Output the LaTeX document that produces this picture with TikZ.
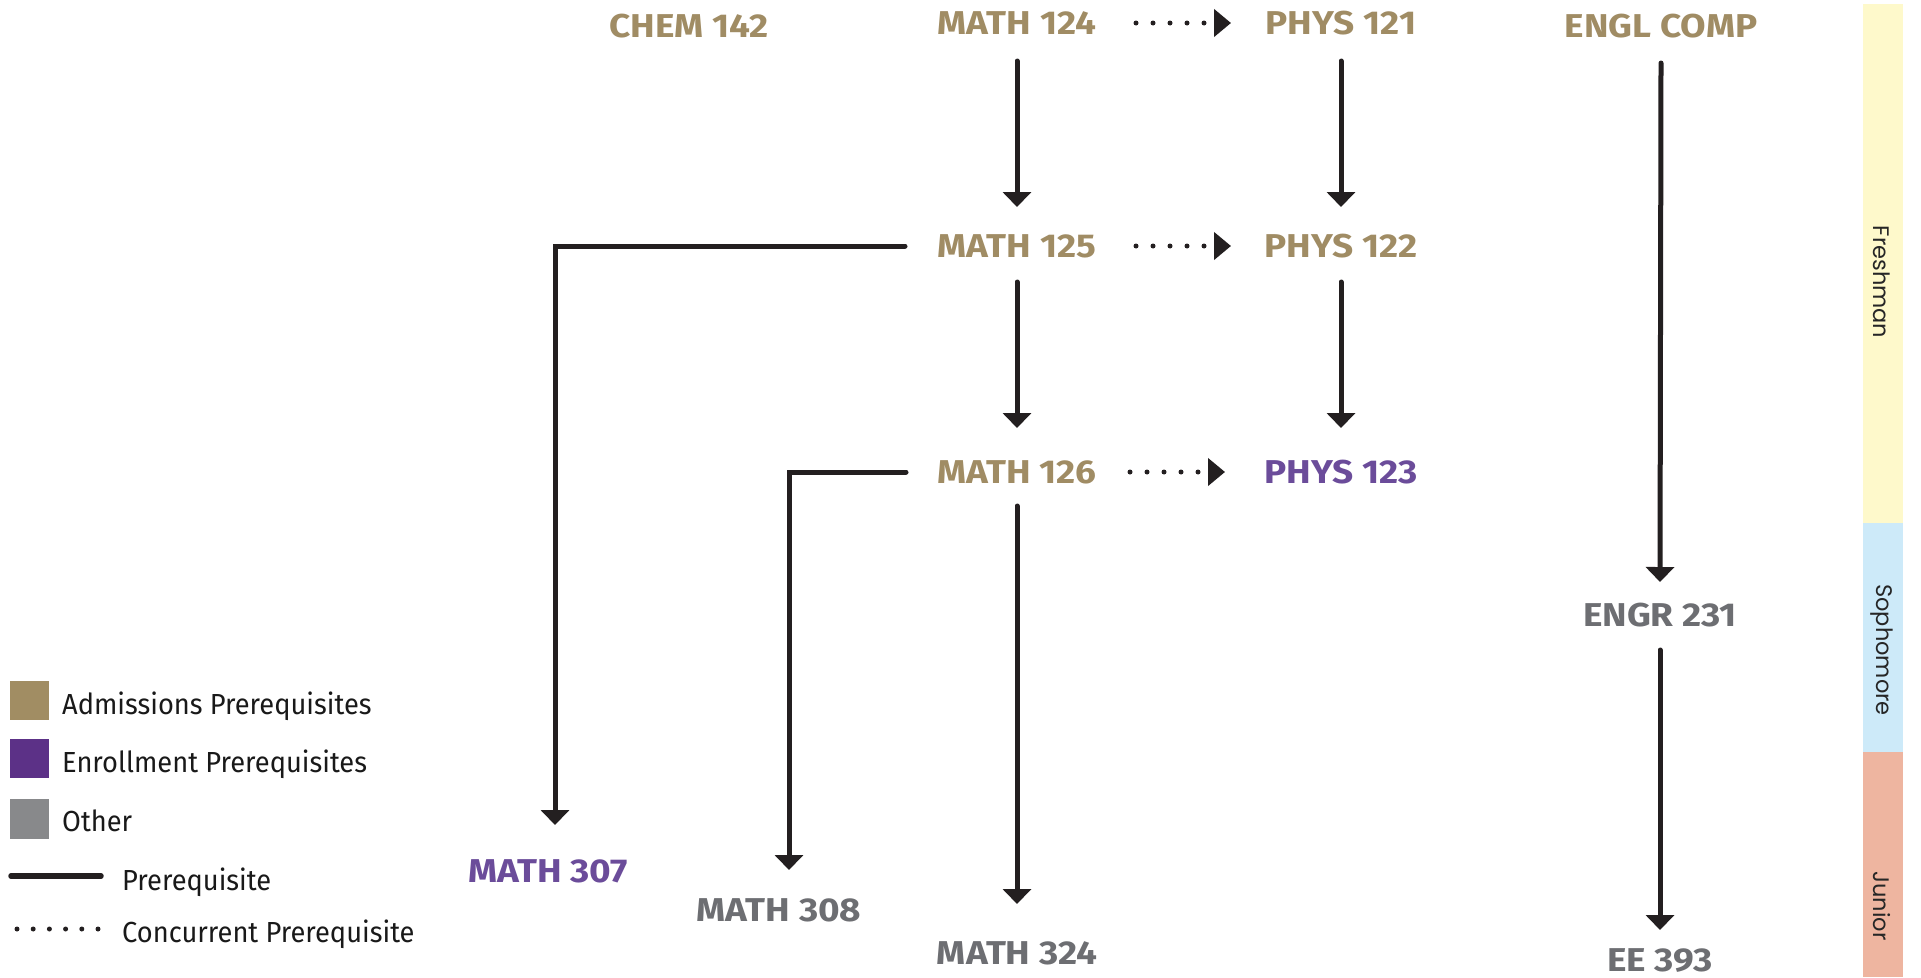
\documentclass[tikz,border=0pt]{standalone}
\usepackage{fontspec}
\setmainfont{Fira Sans}
\newfontfamily\coursefont[FakeStretch=1.12]{Fira Sans}
\newfontfamily\legendfont[FakeStretch=0.94]{Fira Sans}
\newfontfamily\bandfont{Poppins}
\usetikzlibrary{arrows.meta}
\definecolor{admc}{HTML}{A08C64}
\definecolor{enrc}{HTML}{6B4C9A}
\definecolor{othc}{HTML}{6D6E72}
\definecolor{admsq}{HTML}{A18D63}
\definecolor{enrsq}{HTML}{5C3187}
\definecolor{othsq}{HTML}{88898B}
\definecolor{linec}{HTML}{231F20}
\definecolor{yelband}{HTML}{FEF9CB}
\definecolor{bluband}{HTML}{CDEAF9}
\definecolor{salband}{HTML}{EEB5A0}
\tikzset{
  course/.style={font=\coursefont\bfseries\fontsize{33}{36}\selectfont, inner sep=0pt},
  adm/.style={course, text=admc},
  enr/.style={course, text=enrc},
  oth/.style={course, text=othc},
  pre/.style={draw=linec, line width=5pt, line cap=round, -{Triangle[width=28pt,length=15pt]}},
  conc/.style={draw=linec, line width=5pt, line cap=round, dash pattern=on 0pt off 17pt, -{Triangle[width=27pt,length=17pt]}},
  legtext/.style={font=\legendfont\fontsize{29}{32}\selectfont, anchor=base west, inner sep=0pt, text=black!90},
  bandlabel/.style={font=\bandfont\fontsize{22.5}{26}\selectfont, rotate=-90, inner sep=0pt, text=black!85},
}
\begin{document}
\begin{tikzpicture}[x=1pt,y=-1pt]
\useasboundingbox (0,0) rectangle (1921,977);
\fill[white] (0,0) rectangle (1921,977);
% year band
\fill[yelband] (1863,4) rectangle (1903,523);
\fill[bluband] (1863,523) rectangle (1903,752);
\fill[salband] (1863,752) rectangle (1903,977);
\node[bandlabel] (fresh) at (1882,282) {Freshman};
\node[bandlabel] (soph) at (1882,650) {Sophomore};
\node[bandlabel] (jun) at (1882,906) {Junior};
% courses
\node[adm] (chem) at (689,26) {CHEM 142};
\node[adm] (m124) at (1017,23) {MATH 124};
\node[adm] (p121) at (1341,23) {PHYS 121};
\node[adm] (engl) at (1661,26) {ENGL COMP};
\node[adm] (m125) at (1017,246) {MATH 125};
\node[adm] (p122) at (1341,246) {PHYS 122};
\node[adm] (m126) at (1017,472) {MATH 126};
\node[enr] (p123) at (1341,472) {PHYS 123};
\node[oth] (engr) at (1660,615) {ENGR 231};
\node[enr] (m307) at (548,871) {MATH 307};
\node[oth] (m308) at (779,910) {MATH 308};
\node[oth] (m324) at (1017,953) {MATH 324};
\node[oth] (ee) at (1660,961) {EE 393};
% prerequisites
\draw[pre] ([yshift=-38pt]m124.center) -- ([yshift=39pt]m125.center);
\draw[pre] ([yshift=-36pt]m125.center) -- ([yshift=44pt]m126.center);
\draw[pre] ([yshift=-34pt]m126.center) -- ([yshift=49pt]m324.center);
\draw[pre] ([yshift=-38pt]p121.center) -- ([yshift=39pt]p122.center);
\draw[pre] ([yshift=-36pt]p122.center) -- ([yshift=44pt]p123.center);
\draw[pre] ([yshift=-37pt]engl.center) -- ([yshift=33pt]engr.center);
\draw[pre] ([yshift=-35pt]engr.center) -- ([yshift=31pt]ee.center);
\draw[pre, line join=miter] ([xshift=-112pt]m125.center) -| ([xshift=7pt,yshift=46pt]m307.center);
\draw[pre, line join=miter] ([xshift=-111pt]m126.center) -| ([xshift=10pt,yshift=40pt]m308.center);
% concurrent
\draw[conc] ([xshift=119pt]m124.center) -- ([xshift=-110pt]p121.center);
\draw[conc] ([xshift=119pt]m125.center) -- ([xshift=-110pt]p122.center);
\draw[conc] ([xshift=113pt]m126.center) -- ([xshift=-116pt]p123.center);
% legend
\fill[admsq] (10,681) rectangle (49,720);
\fill[enrsq] (10,739) rectangle (49,778);
\fill[othsq] (10,799) rectangle (49,839);
\node[legtext] (l1) at (62,714) {Admissions Prerequisites};
\node[legtext] (l2) at (62,772) {Enrollment Prerequisites};
\node[legtext] (l3) at (62,831) {Other};
\coordinate (lpa) at (11,876);
\coordinate (lpb) at (101,876);
\draw[draw=linec, line width=5.5pt, line cap=round] (lpa) -- (lpb);
\node[legtext] (l4) at (122,890) {Prerequisite};
\coordinate (lca) at (17,929);
\coordinate (lcb) at (99,929);
\draw[draw=linec, line width=5pt, line cap=round, dash pattern=on 0pt off 16.2pt] (lca) -- (lcb);
\node[legtext] (l5) at (122,942) {Concurrent Prerequisite};
\end{tikzpicture}
\end{document}
